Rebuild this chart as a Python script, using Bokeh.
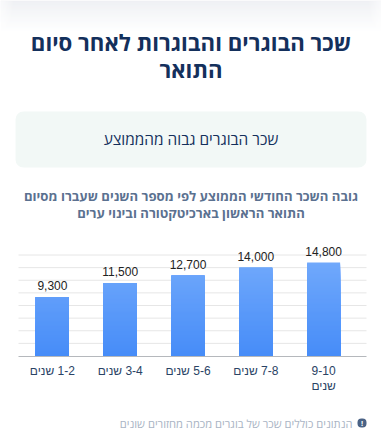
from bokeh.plotting import figure
from bokeh.embed import file_html
from bokeh.resources import INLINE
from bokeh.models import Label, BoxAnnotation, Range1d, FixedTicker, ColumnDataSource, LinearAxis
from bokeh.core.properties import value

# data
categories = ["\u200f1-2 שנים", "\u200f3-4 שנים", "\u200f5-6 שנים", "\u200f7-8 שנים", "9-10\nשנים"]
salaries = [9300, 11500, 12700, 14000, 14800]
value_labels = ["9,300", "11,500", "12,700", "14,000", "14,800"]
grid_ticks = [2000, 4000, 6000, 8000, 10000, 12000, 14000, 16000]

title_lines = ["שכר הבוגרים והבוגרות לאחר סיום", "התואר"]
card_text = "שכר הבוגרים גבוה מהממוצע"
subtitle_lines = ["גובה השכר החודשי הממוצע לפי מספר השנים שעברו מסיום", "התואר הראשון בארכיטקטורה ובינוי ערים"]
note_text = "הנתונים כוללים שכר של בוגרים מכמה מחזורים שונים"

W, H = 381, 442
HEB = "Open Sans"
ARIAL = "Liberation Sans"

# plot area inside the page (pixels)
PX_LEFT, PX_RIGHT, PX_TOP, PX_BOTTOM = 18, 366, 254.5, 355.5
X_STEP = 67.8
Y_UNIT = 16000 / (PX_BOTTOM - PX_TOP)
x_start = -0.5 - PX_LEFT / X_STEP
x_end = x_start + W / X_STEP
x_grid_end = x_start + PX_RIGHT / X_STEP
y_start = -(H - PX_BOTTOM) * Y_UNIT
y_end = y_start + H * Y_UNIT

p = figure(width=W, height=H, output_backend="svg", toolbar_location=None,
           x_range=Range1d(x_start, x_end), y_range=Range1d(y_start, y_end),
           min_border_left=0, min_border_right=0, min_border_top=0, min_border_bottom=0,
           outline_line_color=None, background_fill_color="white", border_fill_color="white",
           styles={"position": "absolute", "left": "0px", "top": "0px"})
p.grid.visible = False
p.yaxis.visible = False
p.xaxis.visible = False

def mix(a, b, t):
    return "#%02x%02x%02x" % tuple(round(a[i] + (b[i] - a[i]) * t) for i in range(3))

def box(left, right, top, bottom, color, radius=0, alpha=1):
    p.add_layout(BoxAnnotation(left=left, right=right, top=H - top, bottom=H - bottom,
                               left_units="screen", right_units="screen", top_units="screen", bottom_units="screen",
                               fill_color=color, fill_alpha=alpha, line_color=None, border_radius=radius,
                               level="underlay"))

# top page shadow, fading out towards the page edges
for i in range(32):
    box(0, W, i, i + 1, mix((233, 235, 240), (255, 255, 255), (i / 31) ** 0.9))
for i in range(14):
    a = 0.7 * (1 - i / 14)
    box(i, i + 1, 0, 32, "#ffffff", alpha=a)
    box(W - i - 1, W - i, 0, 32, "#ffffff", alpha=a)

# card
box(15, 366, 111, 167, "#f2f8f6", 8)

# grid lines
p.segment(x0=[-0.5] * len(grid_ticks), x1=[x_grid_end] * len(grid_ticks), y0=grid_ticks, y1=grid_ticks,
          line_color="#e6e6e6", line_width=1)

# bars: gradient painted from the tallest band down
xs = list(range(len(salaries)))
steps = 94
top_v = max(salaries)
for k in range(steps, 0, -1):
    lvl = top_v * k / steps
    tops = [min(v, lvl) for v in salaries]
    col = mix((70, 140, 248), (112, 168, 251), k / steps)
    p.vbar(x=xs, bottom=0, top=tops, width=33 / X_STEP, fill_color=col, line_color=None)

# category axis at value 0
ax = LinearAxis(fixed_location=0, bounds=(-0.5, x_grid_end))
ax.ticker = FixedTicker(ticks=list(range(len(categories))))
ax.major_label_overrides = {i: c for i, c in enumerate(categories)}
ax.major_tick_line_color = None
ax.minor_tick_line_color = None
ax.axis_line_color = "#b5b8bc"
ax.major_label_text_font = ARIAL
ax.major_label_text_font_size = "12px"
ax.major_label_text_color = "#2a4365"
ax.major_label_text_line_height = 1.05
ax.major_label_standoff = 2
p.add_layout(ax, "below")

src = ColumnDataSource(dict(x=xs, y=salaries, t=value_labels))
p.text(x="x", y="y", text="t", source=src, text_font=value(ARIAL), text_font_size="12px",
       text_color="#222222", text_align="center", text_baseline="bottom", y_offset=-7)

def label(x, y, text, font, size, color, style="normal", align="center"):
    p.add_layout(Label(x=x, y=H - y, x_units="screen", y_units="screen", text=text, text_font=font,
                       text_font_size=size, text_color=color, text_font_style=style,
                       text_align=align, text_baseline="middle"))

label(190.5, 41.5, title_lines[0], HEB, "22.2px", "#14305c", "bold")
label(190.5, 69, title_lines[1], HEB, "22.2px", "#14305c", "bold")
label(190.5, 139, card_text, HEB, "15.4px", "#14305c")
label(190.5, 195.5, subtitle_lines[0], HEB, "13.1px", "#5b7190", "bold")
label(190.5, 212.5, subtitle_lines[1], HEB, "13.1px", "#5b7190", "bold")
label(352, 423, note_text, HEB, "11.2px", "#a9b4c4", align="right")
box(357, 366, 418, 427, "#4a6285", 4)
label(361.5, 423, "!", ARIAL, "8px", "white", "bold")

open("out.html", "w").write(file_html(p, INLINE))
